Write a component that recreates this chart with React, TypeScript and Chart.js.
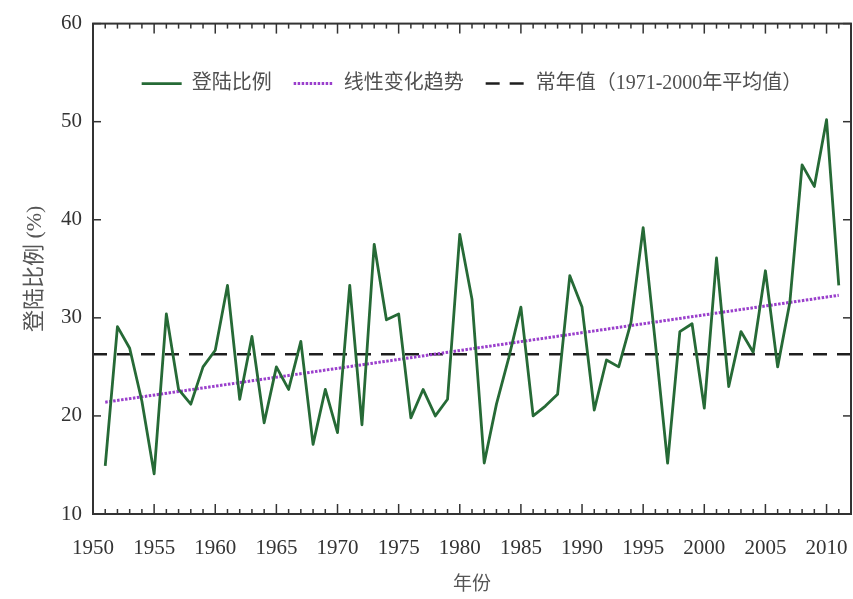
import { useEffect, useRef } from 'react';
import { Chart, registerables } from 'chart.js';

Chart.register(...registerables);

// ---- data ----
const years = [
  1951, 1952, 1953, 1954, 1955, 1956, 1957, 1958, 1959, 1960,
  1961, 1962, 1963, 1964, 1965, 1966, 1967, 1968, 1969, 1970,
  1971, 1972, 1973, 1974, 1975, 1976, 1977, 1978, 1979, 1980,
  1981, 1982, 1983, 1984, 1985, 1986, 1987, 1988, 1989, 1990,
  1991, 1992, 1993, 1994, 1995, 1996, 1997, 1998, 1999, 2000,
  2001, 2002, 2003, 2004, 2005, 2006, 2007, 2008, 2009, 2010,
  2011,
];
const landfallRatio = [
  14.9, 29.1, 26.9, 21.5, 14.1, 30.4, 22.7, 21.2, 25.0, 26.7,
  33.3, 21.7, 28.1, 19.3, 25.0, 22.7, 27.6, 17.1, 22.7, 18.3,
  33.3, 19.1, 37.5, 29.8, 30.4, 19.8, 22.7, 20.0, 21.7, 38.5,
  31.9, 15.2, 21.2, 25.9, 31.1, 20.0, 21.0, 22.2, 34.3, 31.1,
  20.6, 25.7, 25.0, 29.5, 39.2, 27.4, 15.2, 28.6, 29.4, 20.8,
  36.1, 23.0, 28.6, 26.5, 34.8, 25.0, 31.6, 45.6, 43.4, 50.2,
  33.3,
];
const trendYears = [1951, 2011];
const trendValues = [21.4, 32.3];
const normalYears = [1950, 2012];
const normalValues = [26.3, 26.3];
const seriesLabels = ['登陆比例', '线性变化趋势', '常年值（1971-2000年平均值）'];
const xAxisTitle = '年份';
const yAxisTitle = '登陆比例 (%)';
const xRange = [1950, 2012];
const xStep = 5;
const yRange = [10, 60];
const yStep = 10;

const FONT = "'Liberation Serif', 'Noto Sans CJK SC', serif";
const CJK = "'Liberation Serif', 'Noto Sans CJK SC', sans-serif";

const toPoints = (xs: number[], ys: number[]) => xs.map((x, i) => ({ x, y: ys[i] }));

// place the legend inside the plot area, centred near the top
const legendInside = {
  id: 'legendInside',
  beforeLayout(chart: any) {
    const lg = chart.legend;
    if (lg && !lg._insidePatched) {
      const orig = lg.fit.bind(lg);
      lg.fit = function () {
        orig();
        this._fullH = this.height;
        this.height = 0;
      };
      lg._insidePatched = true;
    }
  },
  afterLayout(chart: any) {
    const lg = chart.legend;
    const ca = chart.chartArea;
    if (!lg) return;
    lg.left = ca.left;
    lg.right = ca.right;
    lg.width = ca.right - ca.left;
    lg.top = ca.top + 28;
    lg.height = lg._fullH || 0;
    lg.bottom = lg.top + lg.height;
  },
};

// boxed frame with inward ticks on all four sides
const frameTicks = {
  id: 'frameTicks',
  afterDatasetsDraw(chart: any) {
    const { ctx, chartArea, scales } = chart;
    const { left, right, top, bottom } = chartArea;
    const x = scales.x;
    const y = scales.y;
    ctx.save();
    ctx.strokeStyle = '#333';
    ctx.lineWidth = 1.5;
    const seg = (x1: number, y1: number, x2: number, y2: number) => {
      ctx.beginPath();
      ctx.moveTo(x1, y1);
      ctx.lineTo(x2, y2);
      ctx.stroke();
    };
    for (let yr = Math.ceil(x.min); yr <= x.max; yr++) {
      const px = x.getPixelForValue(yr);
      const len = yr % xStep === 0 ? 10 : 5;
      seg(px, bottom, px, bottom - len);
      seg(px, top, px, top + len);
    }
    for (const t of y.ticks) {
      const py = y.getPixelForValue(t.value);
      seg(left, py, left + 8, py);
      seg(right, py, right - 8, py);
    }
    ctx.lineWidth = 2;
    ctx.strokeRect(left, top, right - left, bottom - top);
    ctx.restore();
  },
};

export default function App() {
  const ref = useRef<HTMLCanvasElement | null>(null);

  useEffect(() => {
    if (!ref.current) return;
    const chart = new Chart(ref.current, {
      type: 'line',
      data: {
        datasets: [
          {
            label: seriesLabels[0],
            data: toPoints(years, landfallRatio),
            borderColor: '#266a36',
            borderWidth: 2.8,
            borderJoinStyle: 'round',
            pointRadius: 0,
            tension: 0,
            order: 1,
          },
          {
            label: seriesLabels[1],
            data: toPoints(trendYears, trendValues),
            borderColor: '#9a3fcc',
            borderWidth: 3,
            borderDash: [2.5, 1.5],
            pointRadius: 0,
            order: 2,
          },
          {
            label: seriesLabels[2],
            data: toPoints(normalYears, normalValues),
            borderColor: '#1e1e1e',
            borderWidth: 2.5,
            borderDash: [14, 10],
            pointRadius: 0,
            order: 3,
          },
        ],
      },
      options: {
        responsive: false,
        animation: false,
        devicePixelRatio: 1,
        layout: { padding: { top: 19, right: 2, bottom: 0, left: 0 } },
        plugins: {
          tooltip: { enabled: false },
          legend: {
            position: 'top',
            align: 'center',
            labels: {
              usePointStyle: true,
              pointStyle: 'line',
              pointStyleWidth: 40,
              padding: 22,
              color: '#505050',
              font: { family: CJK, size: 20 },
              generateLabels: (c: any) =>
                c.data.datasets.map((ds: any, i: number) => ({
                  text: ds.label,
                  fillStyle: 'rgba(0,0,0,0)',
                  strokeStyle: ds.borderColor,
                  lineWidth: ds.borderWidth,
                  lineDash: ds.borderDash || [],
                  lineCap: 'butt',
                  pointStyle: 'line',
                  hidden: false,
                  datasetIndex: i,
                  fontColor: '#505050',
                })),
            },
          },
        },
        scales: {
          x: {
            type: 'linear',
            min: xRange[0],
            max: xRange[1],
            grid: { display: false, drawTicks: false },
            border: { display: false },
            ticks: {
              stepSize: xStep,
              includeBounds: false,
              padding: 22,
              color: '#333',
              font: { family: FONT, size: 21 },
              callback: (v: any) => String(v),
              maxRotation: 0,
              autoSkip: false,
            },
            title: {
              display: true,
              text: xAxisTitle,
              color: '#555',
              font: { family: CJK, size: 19 },
              padding: { top: 0, bottom: 3 },
            },
            afterFit: (s: any) => {
              s.height = 85;
              s.paddingRight = 0;
              s.paddingLeft = 0;
            },
          },
          y: {
            min: yRange[0],
            max: yRange[1],
            grid: { display: false, drawTicks: false },
            border: { display: false },
            ticks: {
              stepSize: yStep,
              padding: 11,
              color: '#333',
              font: { family: FONT, size: 21 },
            },
            title: {
              display: true,
              text: yAxisTitle,
              color: '#555',
              font: { family: CJK, size: 22 },
              padding: { top: 22, bottom: 0 },
            },
            afterFit: (s: any) => {
              s.width = 93;
            },
          },
        },
      },
      plugins: [legendInside, frameTicks],
    } as any);
    return () => chart.destroy();
  }, []);

  return (
    <div style={{ position: 'absolute', left: 0, top: 0, width: 853, height: 599, background: '#fff' }}>
      <canvas ref={ref} width={853} height={599} style={{ width: 853, height: 599, display: 'block' }} />
    </div>
  );
}
